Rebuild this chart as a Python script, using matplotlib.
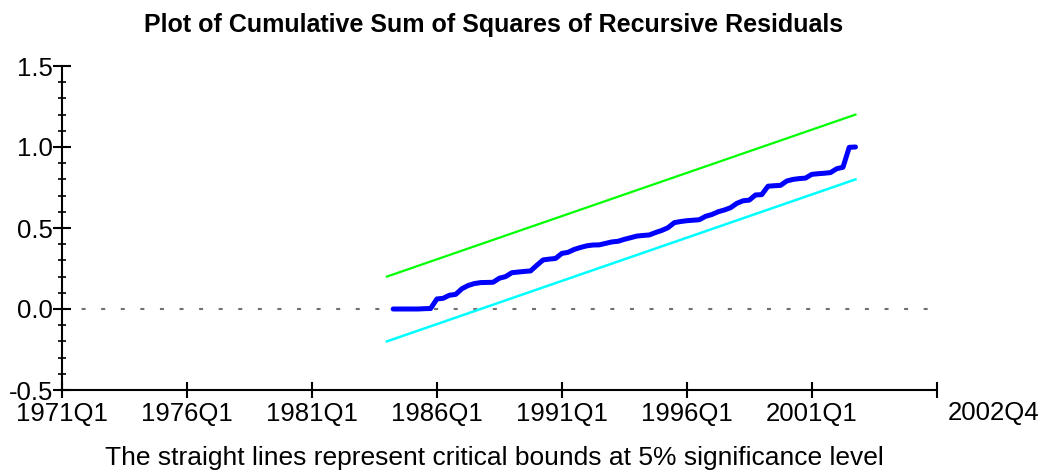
import matplotlib
matplotlib.use("Agg")
import matplotlib.pyplot as plt
import numpy as np

plt.rcParams['font.family'] = ['Liberation Sans', 'DejaVu Sans']

# quarterly sample, 1971Q1 is index 0
tick_labels = ['1971Q1', '1976Q1', '1981Q1', '1986Q1', '1991Q1', '1996Q1', '2001Q1', '']
end_label = '2002Q4'

# cusum of squares, 1984Q2 .. 2002Q4
cusumsq_start = '1984Q2'
cusumsq = [0.0, 0.0, 0.0, 0.0, 0.0, 0.002, 0.003, 0.062, 0.066, 0.085,
           0.09, 0.125, 0.145, 0.157, 0.163, 0.164, 0.165, 0.19, 0.2, 0.224,
           0.228, 0.232, 0.235, 0.27, 0.303, 0.308, 0.312, 0.343, 0.35, 0.368,
           0.38, 0.39, 0.395, 0.396, 0.405, 0.414, 0.418, 0.43, 0.44, 0.45,
           0.454, 0.457, 0.472, 0.485, 0.502, 0.533, 0.54, 0.545, 0.548, 0.551,
           0.572, 0.583, 0.6, 0.611, 0.625, 0.652, 0.668, 0.672, 0.704, 0.706,
           0.758, 0.761, 0.763, 0.79, 0.8, 0.805, 0.808, 0.831, 0.835, 0.838,
           0.842, 0.866, 0.875, 0.998, 1.0]

# 5% critical bounds (straight lines, endpoints)
bound_periods = ['1984Q1', '2002Q4']
upper_bound = [0.2, 1.2]
lower_bound = [-0.2, 0.8]


def qidx(s):
    return (int(s[:4]) - 1971) * 4 + int(s[-1]) - 1


fig = plt.figure(figsize=(10.47, 4.74), dpi=100)
ax = fig.add_axes([62/1047, 1 - 390/474, 874.7/1047, 324/474])

bx = [qidx(p) for p in bound_periods]
x0 = qidx(cusumsq_start)
cx = np.arange(x0, x0 + len(cusumsq))

# dotted zero line
ax.axhline(0, color='#707070', lw=1.5, ls=(0, (1.93, 7.47)), zorder=1)
ax.plot(bx, upper_bound, color='#00ff00', lw=1.6, zorder=2)
ax.plot(bx, lower_bound, color='#00ffff', lw=1.8, zorder=2)
ax.plot(cx, cusumsq, color='#0000ff', lw=3.6, solid_capstyle='round',
        solid_joinstyle='round', zorder=3)

ax.set_xlim(0, 140)
ax.set_ylim(-0.5, 1.5)
ax.set_xticks(np.arange(0, 141, 20))
ax.set_xticklabels(tick_labels)
ax.set_yticks([-0.5, 0.0, 0.5, 1.0, 1.5])
ax.set_yticklabels(['-0.5', '0.0', '0.5', '1.0', '1.5'])
ax.set_yticks(np.arange(-0.5, 1.51, 0.1), minor=True)

for s in ['top', 'right']:
    ax.spines[s].set_visible(False)
for s in ['left', 'bottom']:
    ax.spines[s].set_linewidth(1.5)

ax.tick_params(axis='x', which='major', direction='inout', length=11.5, width=1.5,
               labelsize=18.5, pad=3)
ax.tick_params(axis='y', which='major', direction='inout', length=13, width=1.5,
               labelsize=18.5, pad=0)
ax.tick_params(axis='y', which='minor', direction='inout', length=6, width=1.2)

fig.text(994/1047, 1 - 413/474, end_label, fontsize=18.5, ha='center', va='center')
fig.text(494/1047, 1 - 25/474, 'Plot of Cumulative Sum of Squares of Recursive Residuals',
         fontsize=18, fontweight='bold', ha='center', va='center')
fig.text(494/1047, 1 - 458/474,
         'The straight lines represent critical bounds at 5% significance level',
         fontsize=19, ha='center', va='center')

fig.savefig('out.png', dpi=100)
